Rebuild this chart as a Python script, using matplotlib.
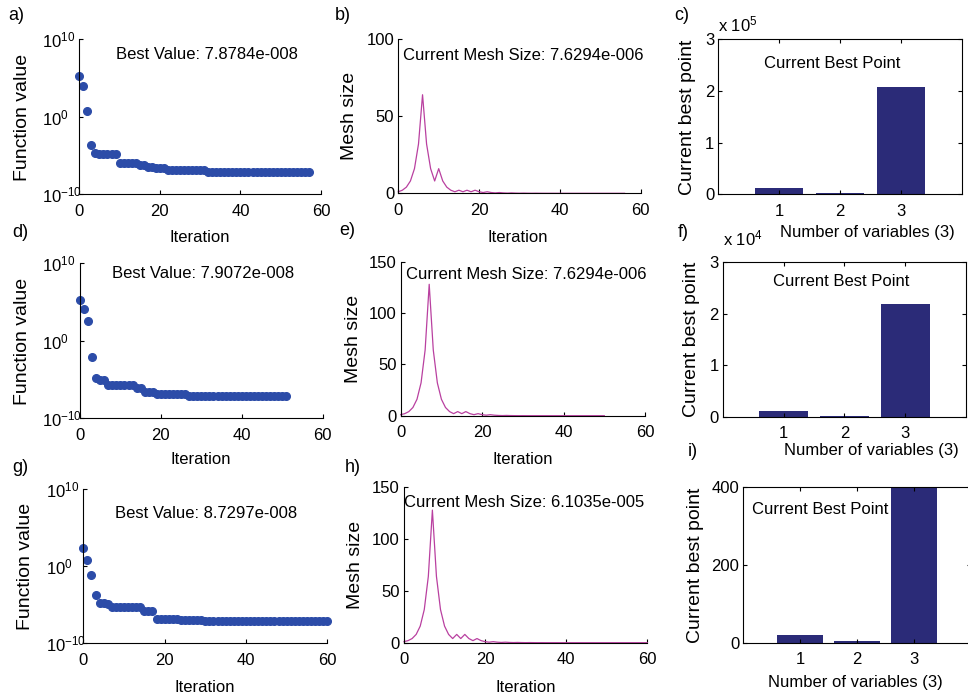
import matplotlib
matplotlib.use("Agg")
import matplotlib.pyplot as plt

plt.rcParams['font.family'] = ['Liberation Sans', 'DejaVu Sans']
plt.rcParams['mathtext.fontset'] = 'custom'
plt.rcParams['mathtext.rm'] = 'Liberation Sans'
plt.rcParams['mathtext.it'] = 'Liberation Sans'
plt.rcParams['axes.unicode_minus'] = False
plt.rcParams['font.size'] = 12

# ---- data ----
# function value per iteration (a, d, g)
fval_a = [2.1e5, 8.9e3, 5.4, 2.2e-4, 2.3e-5,
          1.4e-5, 1.4e-5, 1.4e-5, 1.4e-5, 1.4e-5,
          9.8e-7, 9.8e-7, 9.8e-7, 9.8e-7, 9.8e-7,
          6.0e-7, 6.0e-7, 3.6e-7, 3.6e-7, 2.8e-7, 2.8e-7, 2.8e-7,
          1.35e-7, 1.35e-7, 1.35e-7, 1.35e-7, 1.35e-7, 1.35e-7, 1.35e-7, 1.35e-7, 1.35e-7, 1.35e-7,
          7.9e-8, 7.9e-8, 7.9e-8, 7.9e-8, 7.9e-8, 7.9e-8, 7.9e-8, 7.9e-8, 7.9e-8, 7.9e-8,
          7.9e-8, 7.9e-8, 7.9e-8, 7.9e-8, 7.9e-8, 7.9e-8, 7.9e-8, 7.9e-8, 7.9e-8, 7.9e-8,
          7.9e-8, 7.9e-8, 7.9e-8, 7.9e-8, 7.9e-8, 7.8784e-8]
fval_d = [2.1e5, 1.35e4, 310, 7.9e-3, 1.4e-5, 8.5e-6, 8.5e-6,
          1.9e-6, 1.9e-6, 1.9e-6, 1.9e-6, 1.9e-6, 1.9e-6, 1.9e-6,
          9.0e-7, 9.0e-7, 2.6e-7, 2.6e-7, 2.6e-7,
          1.3e-7, 1.3e-7, 1.3e-7, 1.3e-7, 1.3e-7, 1.3e-7, 1.3e-7, 1.3e-7,
          7.9e-8, 7.9e-8, 7.9e-8, 7.9e-8, 7.9e-8, 7.9e-8, 7.9e-8, 7.9e-8, 7.9e-8, 7.9e-8,
          7.9e-8, 7.9e-8, 7.9e-8, 7.9e-8, 7.9e-8, 7.9e-8, 7.9e-8, 7.9e-8, 7.9e-8, 7.9e-8,
          7.9e-8, 7.9e-8, 7.9e-8, 7.9e-8, 7.9072e-8]
fval_g = [220, 6.0, 0.083, 1.9e-4, 1.9e-5, 1.9e-5, 1.3e-5,
          5.2e-6, 5.2e-6, 5.2e-6, 5.2e-6, 5.2e-6, 5.2e-6, 5.2e-6, 5.2e-6,
          1.7e-6, 1.7e-6, 1.7e-6,
          1.6e-7, 1.6e-7, 1.6e-7, 1.6e-7, 1.6e-7, 1.6e-7,
          1.2e-7, 1.2e-7, 1.2e-7, 1.2e-7, 1.2e-7, 1.2e-7,
          8.7e-8, 8.7e-8, 8.7e-8, 8.7e-8, 8.7e-8, 8.7e-8, 8.7e-8, 8.7e-8, 8.7e-8, 8.7e-8,
          8.7e-8, 8.7e-8, 8.7e-8, 8.7e-8, 8.7e-8, 8.7e-8, 8.7e-8, 8.7e-8, 8.7e-8, 8.7e-8,
          8.7e-8, 8.7e-8, 8.7e-8, 8.7e-8, 8.7e-8, 8.7e-8, 8.7e-8, 8.7e-8, 8.7e-8, 8.7e-8,
          8.7297e-8]

# mesh size per iteration (b, e, h)
mesh_b = [1, 2, 4, 8, 16, 32, 64, 32, 16, 8, 16, 8, 4, 2, 1, 2, 1, 2, 1, 2, 1,
          0.5, 1, 0.5, 0.25, 0.5, 0.25, 0.125, 0.25, 0.125, 0.0625, 0.125, 0.0625,
          0.031, 0.0625, 0.031, 0.016, 0.0078, 0.016, 0.0078, 0.0039, 0.002, 0.0039,
          0.002, 0.001, 0.0005, 0.001, 0.0005, 0.00024, 0.00012, 6.1e-5, 3.1e-5,
          6.1e-5, 3.1e-5, 1.5e-5, 1.5e-5, 7.6294e-6]
mesh_e = [1, 2, 4, 8, 16, 32, 64, 128, 64, 32, 16, 8, 4, 2, 4, 2, 4, 2, 1, 2, 1,
          0.5, 1, 0.5, 0.25, 0.125, 0.25, 0.125, 0.0625, 0.031, 0.0625, 0.031,
          0.016, 0.0078, 0.016, 0.0078, 0.0039, 0.002, 0.001, 0.002, 0.001, 0.0005,
          0.00024, 0.00012, 0.00024, 0.00012, 6.1e-5, 3.1e-5, 1.5e-5, 1.5e-5, 7.6294e-6]
mesh_h = [1, 2, 4, 8, 16, 32, 64, 128, 64, 32, 16, 8, 4, 8, 4, 8, 4, 2, 4, 2, 1,
          0.5, 1, 0.5, 0.25, 0.5, 0.25, 0.125, 0.25, 0.125, 0.0625, 0.125, 0.0625,
          0.031, 0.0625, 0.031, 0.016, 0.031, 0.016, 0.0078, 0.016, 0.0078, 0.0039,
          0.0078, 0.0039, 0.002, 0.0039, 0.002, 0.001, 0.002, 0.001, 0.0005, 0.001,
          0.0005, 0.00024, 0.00049, 0.00024, 0.00012, 0.00024, 0.00012, 6.1035e-5]

# current best point (c, f, i)
var_idx = [1, 2, 3]
best_c = [11600, 3000, 207000]
best_f = [1100, 200, 21900]
best_i = [20, 4, 2180]

best_text = ['Best Value: 7.8784e-008', 'Best Value: 7.9072e-008', 'Best Value: 8.7297e-008']
mesh_text = ['Current Mesh Size: 7.6294e-006', 'Current Mesh Size: 7.6294e-006',
             'Current Mesh Size: 6.1035e-005']

BLUE = '#2C4CA8'
PINK = '#B940A0'
NAVY = '#2B2B78'

W, H = 968, 699
fig = plt.figure(figsize=(W / 100, H / 100), dpi=100)


def add_ax(x0, x1, y0, y1):
    # pixel box -> figure fraction
    return fig.add_axes([x0 / W, 1 - y1 / H, (x1 - x0) / W, (y1 - y0) / H])


def style(ax, box):
    for s in ax.spines.values():
        s.set_linewidth(0.8)
    if not box:
        ax.spines['top'].set_visible(False)
        ax.spines['right'].set_visible(False)
    ax.tick_params(direction='in', length=3, width=0.8, pad=3,
                   top=box, right=box, labelsize=12)
    ax.tick_params(axis='x', pad=7)


def place_labels(ax, xl, yl, xlab, ylab):
    # label centres in figure pixels
    ax.set_xlabel(xlab, fontsize=12)
    ax.set_ylabel(ylab, fontsize=14)
    ax.xaxis.label.set_va('center')
    ax.yaxis.label.set_va('center')
    ax.xaxis.set_label_coords(xl[0] / W, 1 - xl[1] / H, transform=fig.transFigure)
    ax.yaxis.set_label_coords(yl[0] / W, 1 - yl[1] / H, transform=fig.transFigure)


def fval_panel(ax, vals, txt, tx, ty):
    ax.semilogy(range(len(vals)), vals, 'o', color=BLUE, mec=BLUE, ms=5.5, clip_on=False)
    ax.set_xlim(0, 60)
    ax.set_ylim(1e-10, 1e10)
    ax.set_xticks([0, 20, 40, 60])
    ax.set_yticks([1e-10, 1, 1e10])
    ax.set_yticklabels(['$10^{-10}$', '$10^{0}$', '$10^{10}$'])
    ax.minorticks_off()
    style(ax, False)
    ax.tick_params(axis='y', pad=27)
    for lbl in ax.get_yticklabels():
        lbl.set_ha('left')
    ax.text(tx, ty, txt, transform=ax.transAxes, va='center', fontsize=12)


def mesh_panel(ax, vals, ymax, txt, tx, ty):
    ax.plot(range(len(vals)), vals, color=PINK, lw=0.9, clip_on=False)
    ax.set_xlim(0, 60)
    ax.set_ylim(0, ymax)
    ax.set_xticks([0, 20, 40, 60])
    ax.set_yticks(list(range(0, ymax + 1, 50)))
    style(ax, False)
    ax.text(tx, ty, txt, transform=ax.transAxes, va='center', fontsize=12)


def bar_panel(ax, vals, ymax, yticks, ylabels, tx, ty):
    ax.bar(var_idx, vals, width=0.8, color=NAVY)
    ax.set_xlim(0, 4)
    ax.set_ylim(0, ymax)
    ax.set_xticks(var_idx)
    ax.set_yticks(yticks)
    ax.set_yticklabels(ylabels)
    style(ax, True)
    ax.text(tx, ty, 'Current Best Point', transform=ax.transAxes, va='center',
            fontsize=12, zorder=0)


ax_a = add_ax(79.3, 321, 39.3, 194.3)
ax_b = add_ax(398.3, 640.7, 39.3, 193.3)
ax_c = add_ax(718.3, 961.7, 39.3, 194.3)
ax_d = add_ax(80, 322.7, 263.3, 418.3)
ax_e = add_ax(400.7, 645, 261.7, 415.7)
ax_f = add_ax(722.7, 966, 262.3, 416.7)
ax_g = add_ax(83.3, 327.3, 489.3, 643.3)
ax_h = add_ax(404, 647.3, 487.3, 642.7)
ax_i = add_ax(743.3, 971, 487.3, 642.7)

fval_panel(ax_a, fval_a, best_text[0], 0.152, 0.899)
fval_panel(ax_d, fval_d, best_text[1], 0.132, 0.937)
fval_panel(ax_g, fval_g, best_text[2], 0.130, 0.846)

mesh_panel(ax_b, mesh_b, 100, mesh_text[0], 0.018, 0.898)
mesh_panel(ax_e, mesh_e, 150, mesh_text[1], 0.022, 0.914)
mesh_panel(ax_h, mesh_h, 150, mesh_text[2], 0.0, 0.899)

bar_panel(ax_c, best_c, 3e5, [0, 1e5, 2e5, 3e5], ['0', '1', '2', '3'], 0.188, 0.847)
bar_panel(ax_f, best_f, 3e4, [0, 1e4, 2e4, 3e4], ['0', '1', '2', '3'], 0.205, 0.874)
bar_panel(ax_i, best_i, 400, [0, 200, 400], ['0', '200', '400'], 0.037, 0.86)

place_labels(ax_a, (200, 237), (23, 117), 'Iteration', 'Function value')
place_labels(ax_d, (201, 460), (23, 341), 'Iteration', 'Function value')
place_labels(ax_g, (205, 687), (26, 566), 'Iteration', 'Function value')
place_labels(ax_b, (518, 237), (349, 116), 'Iteration', 'Mesh size')
place_labels(ax_e, (523, 460), (353, 339), 'Iteration', 'Mesh size')
place_labels(ax_h, (526, 687), (355, 565), 'Iteration', 'Mesh size')
place_labels(ax_c, (867, 233), (687, 117), 'Number of variables (3)', 'Current best point')
place_labels(ax_f, (871, 450), (692, 339), 'Number of variables (3)', 'Current best point')
place_labels(ax_i, (855, 683), (695, 565), 'Number of variables (3)', 'Current best point')

fig.text(718 / W, 1 - 24 / H, 'x 10$^{5}$', fontsize=12, va='center')
fig.text(723 / W, 1 - 238 / H, 'x 10$^{4}$', fontsize=12, va='center')

letters = [('a)', 16, 15), ('b)', 343, 15), ('c)', 682, 15),
           ('d)', 20, 233), ('e)', 347, 230), ('f)', 683, 233),
           ('g)', 20, 468), ('h)', 353, 468), ('i)', 693, 452)]
for s, x, y in letters:
    fig.text(x / W, 1 - y / H, s, fontsize=13, ha='center', va='center')

fig.savefig('out.png', dpi=100)
